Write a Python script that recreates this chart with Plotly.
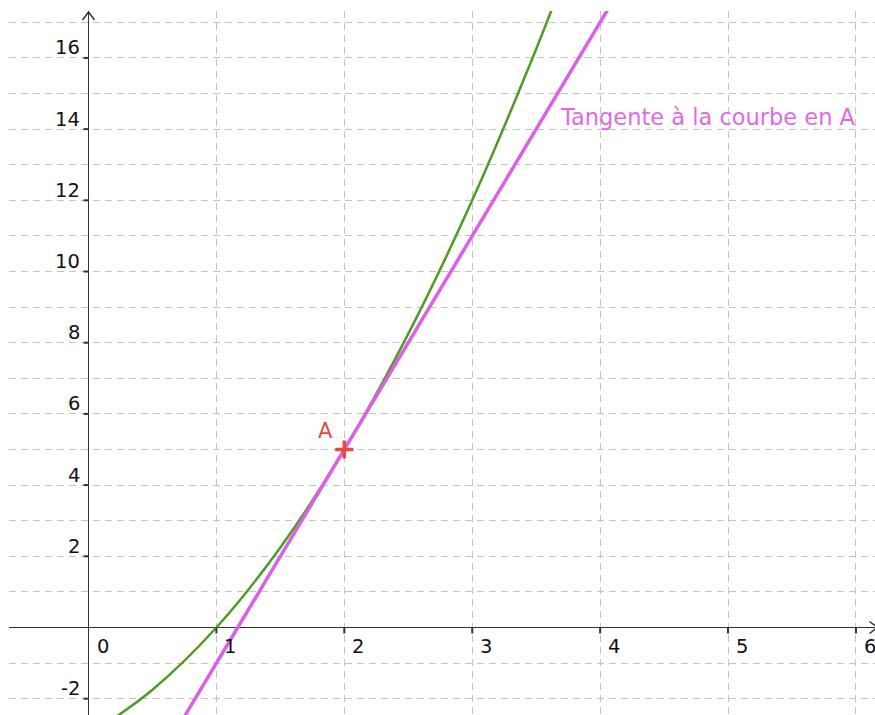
import plotly.graph_objects as go

# ---- data ----
curve_x = [0.1, 0.5, 1.0, 1.5, 2.0, 2.5, 3.0, 3.5, 3.8]
curve_y = [-2.79, -1.75, 0.0, 2.25, 5.0, 8.25, 12.0, 16.25, 19.04]

tangent_x = [0.6, 4.2]
tangent_y = [-3.4, 18.2]

point_A_x = [2]
point_A_y = [5]
point_A_label = "A"

x_tick_vals = [0, 1, 2, 3, 4, 5, 6]
x_tick_labels = ["0", "1", "2", "3", "4", "5", "6"]
y_tick_vals = [-2, 2, 4, 6, 8, 10, 12, 14, 16]
y_tick_labels = ["-2", "2", "4", "6", "8", "10", "12", "14", "16"]

tangent_label = "Tangente à la courbe en A"
tangent_label_pos = (3.67, 14.35)

X_RANGE = [-0.6216, 6.149]
Y_RANGE = [-2.458, 17.318]

GREEN = "#4f9c25"
PINK = "#dc5fe8"
PINK_TEXT = "#e06ae6"
RED = "#e8493c"
AXIS = "#333333"
FONT = "DejaVu Sans"

fig = go.Figure()

fig.add_trace(go.Scatter(x=curve_x, y=curve_y, mode="lines",
                         line=dict(color=GREEN, width=2.5, shape="spline"),
                         hoverinfo="skip", showlegend=False))
fig.add_trace(go.Scatter(x=tangent_x, y=tangent_y, mode="lines",
                         line=dict(color=PINK, width=3.5),
                         hoverinfo="skip", showlegend=False))
fig.add_trace(go.Scatter(x=point_A_x, y=point_A_y, mode="markers",
                         marker=dict(symbol="cross-thin", size=13,
                                     line=dict(color=RED, width=3.5)),
                         hoverinfo="skip", showlegend=False))

annotations = []
shapes = []

# x tick labels and tick marks
for v, lab in zip(x_tick_vals, x_tick_labels):
    annotations.append(dict(x=v, y=0, xref="x", yref="y", text=lab, showarrow=False,
                            xanchor="left", yanchor="middle", xshift=6, yshift=-19,
                            font=dict(family=FONT, size=19.5, color="#111111")))
    if v != 0:
        shapes.append(dict(type="line", xref="x", yref="y", ysizemode="pixel", yanchor=0,
                           x0=v, x1=v, y0=-6, y1=0, line=dict(color=AXIS, width=2)))

# y tick labels and tick marks
for v, lab in zip(y_tick_vals, y_tick_labels):
    annotations.append(dict(x=0, y=v, xref="x", yref="y", text=lab, showarrow=False,
                            xanchor="right", yanchor="middle", xshift=-7, yshift=10,
                            font=dict(family=FONT, size=19.5, color="#111111")))
    shapes.append(dict(type="line", xref="x", yref="y", xsizemode="pixel", xanchor=0,
                       x0=-5, x1=0, y0=v, y1=v, line=dict(color=AXIS, width=2)))

# axis arrows (open chevrons)
for dx, dy in [(-6, -8), (6, -8)]:
    shapes.append(dict(type="line", xref="x", yref="y", xsizemode="pixel", ysizemode="pixel",
                       xanchor=0, yanchor=Y_RANGE[1] - 0.03, x0=0, y0=0, x1=dx, y1=dy,
                       line=dict(color=AXIS, width=1.5)))
for dx, dy in [(-8, -6), (-8, 6)]:
    shapes.append(dict(type="line", xref="x", yref="y", xsizemode="pixel", ysizemode="pixel",
                       xanchor=X_RANGE[1] + 0.02, yanchor=0, x0=0, y0=0, x1=dx, y1=dy,
                       line=dict(color=AXIS, width=1.5)))

# point label A
annotations.append(dict(x=point_A_x[0], y=point_A_y[0], xref="x", yref="y",
                        text=point_A_label, showarrow=False, xanchor="center", yanchor="middle",
                        xshift=-19, yshift=19, font=dict(family=FONT, size=21, color=RED)))

# tangent label
annotations.append(dict(x=tangent_label_pos[0], y=tangent_label_pos[1], xref="x", yref="y",
                        text=tangent_label, showarrow=False, xanchor="left", yanchor="middle",
                        font=dict(family=FONT, size=22.5, color=PINK_TEXT)))

fig.update_layout(
    width=875, height=715,
    margin=dict(l=9, r=0, t=11, b=0),
    paper_bgcolor="white", plot_bgcolor="white",
    showlegend=False,
    hovermode=False,
    annotations=annotations,
    shapes=shapes,
    xaxis=dict(range=X_RANGE, tick0=0, dtick=1, showgrid=True, gridcolor="#c4c4c4",
               gridwidth=1, griddash="7px,5px", showticklabels=False, ticks="",
               showline=False, zeroline=True, zerolinecolor=AXIS, zerolinewidth=1.5,
               fixedrange=True),
    yaxis=dict(range=Y_RANGE, tick0=0, dtick=1, showgrid=True, gridcolor="#c4c4c4",
               gridwidth=1, griddash="7px,5px", showticklabels=False, ticks="",
               showline=False, zeroline=True, zerolinecolor=AXIS, zerolinewidth=1.5,
               fixedrange=True),
)

fig.write_html(
    "out.html",
    config={"displayModeBar": False, "staticPlot": True},
    post_script="document.body.style.margin='0';document.body.style.overflow='hidden';",
)
